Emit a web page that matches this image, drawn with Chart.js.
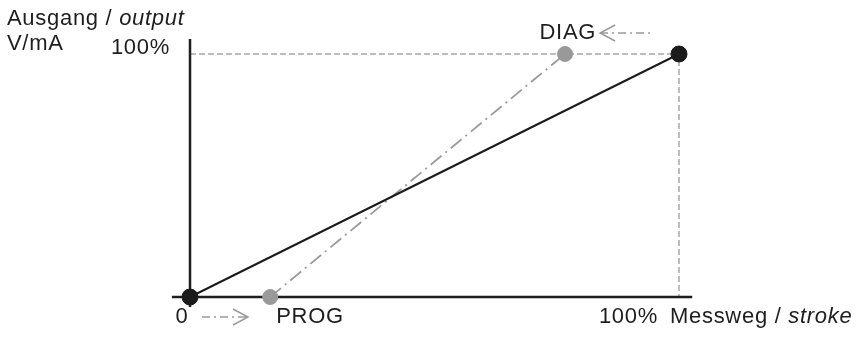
<!DOCTYPE html>
<html>
<head>
<meta charset="utf-8">
<script src="https://cdn.jsdelivr.net/npm/chart.js@4"></script>
<style>
  html, body { margin: 0; padding: 0; background: #fff; }
  #wrap { width: 860px; height: 340px; }
</style>
</head>
<body>
<div id="wrap"><canvas id="kennlinie"></canvas></div>
<script>
// Kennlinie: Messweg (x, %) -> Ausgang (y, %)
const standardX = [0, 100];
const standardY = [0, 100];
// Programmierte / diagnose Kennlinie
const progX = [16.4, 76.7];
const progY = [0, 100];
// Achsen (leicht ueber den Bereich hinaus)
const xAxisX = [-3.7, 102.7];
const yAxisY = [-4.1, 106.2];

const toPts = (xs, ys) => xs.map((x, i) => ({ x: x, y: ys[i] }));

const FONT = '22px "Liberation Sans", Arial, sans-serif';
const FONT_I = 'italic 22px "Liberation Sans", Arial, sans-serif';

function drawText(ctx, parts, x, y, align) {
    // parts: [[text, font], ...]
    ctx.letterSpacing = '0.7px';
    let total = 0;
    parts.forEach(p => { ctx.font = p[1]; total += ctx.measureText(p[0]).width; });
    let cx = align === 'right' ? x - total : (align === 'center' ? x - total / 2 : x);
    parts.forEach(p => {
        ctx.font = p[1];
        ctx.fillText(p[0], cx, y);
        cx += ctx.measureText(p[0]).width;
    });
}

function arrow(ctx, x1, x2, y, dir) {
    // dash-dot shaft with open chevron head, dir = +1 (right) / -1 (left)
    ctx.save();
    ctx.strokeStyle = '#9a9a9a';
    ctx.lineWidth = 1.5;
    ctx.setLineDash([8, 4, 2, 4]);
    ctx.beginPath();
    ctx.moveTo(x1, y);
    ctx.lineTo(x2, y);
    ctx.stroke();
    ctx.setLineDash([]);
    const tip = dir > 0 ? x2 : x1;
    ctx.beginPath();
    ctx.moveTo(tip - dir * 15, y - 8);
    ctx.lineTo(tip, y);
    ctx.lineTo(tip - dir * 15, y + 8);
    ctx.stroke();
    ctx.restore();
}

const labelPlugin = {
    id: 'labels',
    afterDraw(chart) {
        const ctx = chart.ctx;
        const xs = chart.scales.x, ys = chart.scales.y;
        const x0 = xs.getPixelForValue(0), x100 = xs.getPixelForValue(100);
        const y0 = ys.getPixelForValue(0), y100 = ys.getPixelForValue(100);
        ctx.save();
        ctx.fillStyle = '#1e1e1e';
        ctx.textBaseline = 'middle';
        // y axis title
        drawText(ctx, [['Ausgang / ', FONT], ['output', FONT_I]], 7, 19, 'left');
        drawText(ctx, [['V/mA', FONT]], 7, 44, 'left');
        drawText(ctx, [['100%', FONT]], x0 - 20, y100 - 6, 'right');
        // bottom
        const yb = y0 + 20;
        drawText(ctx, [['0', FONT]], x0 - 8, yb, 'center');
        arrow(ctx, x0 + 12, x0 + 58, yb, 1);
        drawText(ctx, [['PROG', FONT]], xs.getPixelForValue(progX[0]) + 6, yb, 'left');
        drawText(ctx, [['100%', FONT]], x100 - 21, yb, 'right');
        drawText(ctx, [['Messweg / ', FONT], ['stroke', FONT_I]], x100 - 9, yb, 'left');
        // DIAG
        const yd = y100 - 21;
        drawText(ctx, [['DIAG', FONT]], xs.getPixelForValue(progX[1]) + 31, yd, 'right');
        arrow(ctx, xs.getPixelForValue(progX[1]) + 35, xs.getPixelForValue(progX[1]) + 88, yd, -1);
        ctx.restore();
    }
};

// Datensaetze mit kleinerem Index liegen oben
new Chart(document.getElementById('kennlinie'), {
    type: 'scatter',
    data: {
        datasets: [
            {   // Standard
                data: toPts(standardX, standardY),
                showLine: true,
                borderColor: '#1b1b1b',
                borderWidth: 2,
                pointRadius: 8,
                pointBackgroundColor: '#1b1b1b',
                pointBorderColor: '#1b1b1b',
                pointBorderWidth: 1,
                clip: false
            },
            {   // PROG / DIAG
                data: toPts(progX, progY),
                showLine: true,
                borderColor: '#9a9a9a',
                borderWidth: 1.8,
                borderDash: [14, 5, 2, 5],
                pointRadius: 7.5,
                pointBackgroundColor: '#999999',
                pointBorderColor: '#999999',
                pointBorderWidth: 1,
                clip: false
            },
            {   // x-Achse
                data: xAxisX.map(x => ({ x: x, y: 0 })),
                showLine: true,
                borderColor: '#1e1e1e',
                borderWidth: 2.5,
                pointRadius: 0,
                clip: false
            },
            {   // y-Achse
                data: yAxisY.map(y => ({ x: 0, y: y })),
                showLine: true,
                borderColor: '#1e1e1e',
                borderWidth: 2.5,
                pointRadius: 0,
                clip: false
            },
            {   // 100% Hilfslinien
                data: [{ x: 0, y: 100 }, { x: 100, y: 100 }, { x: 100, y: 0 }],
                showLine: true,
                borderColor: '#a8a8a8',
                borderWidth: 1.5,
                borderDash: [6, 3],
                pointRadius: 0,
                clip: false
            }
        ]
    },
    options: {
        responsive: true,
        maintainAspectRatio: false,
        animation: false,
        events: [],
        layout: { padding: { left: 190, right: 181, top: 54, bottom: 43 } },
        plugins: { legend: { display: false }, tooltip: { enabled: false } },
        scales: {
            x: { type: 'linear', min: 0, max: 100, display: false },
            y: { type: 'linear', min: 0, max: 100, display: false }
        }
    },
    plugins: [labelPlugin]
});
</script>
</body>
</html>
